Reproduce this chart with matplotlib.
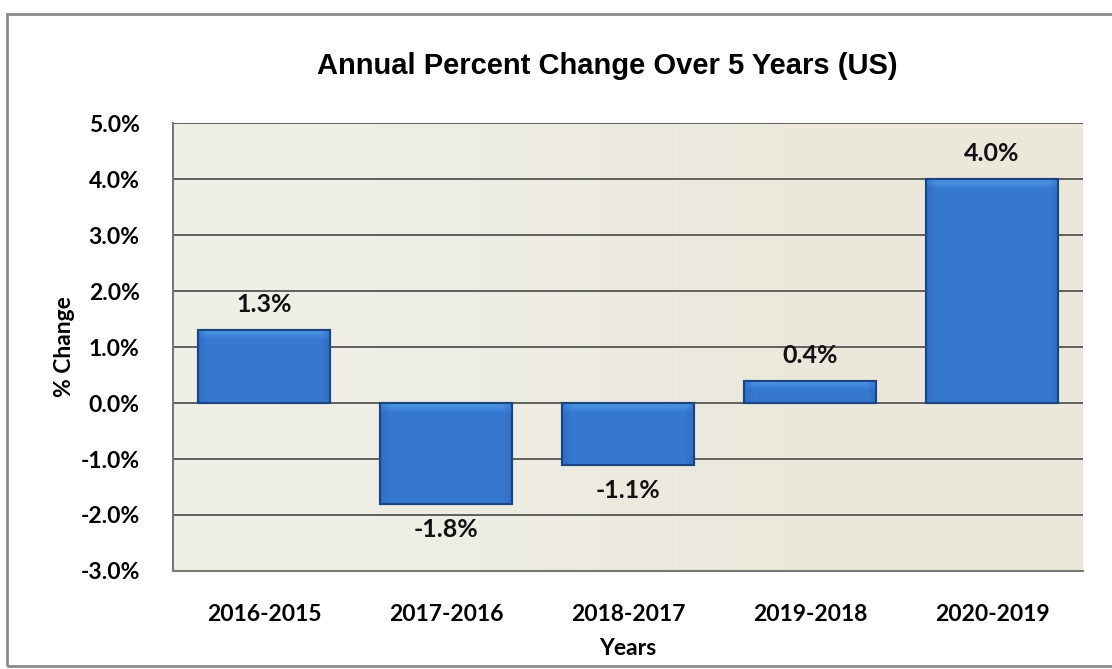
import numpy as np
import matplotlib.pyplot as plt
from matplotlib.colors import LinearSegmentedColormap
from matplotlib.patches import Rectangle
from matplotlib.ticker import FuncFormatter

years = ['2016-2015', '2017-2016', '2018-2017', '2019-2018', '2020-2019']
pct_change = [1.3, -1.8, -1.1, 0.4, 4.0]

fig = plt.figure(figsize=(11.12, 6.69), dpi=100)
fig.patch.set_facecolor('white')

# chart frame
fig.add_artist(Rectangle((7 / 1112, 3 / 669), 1110 / 1112, 652 / 669,
                         transform=fig.transFigure, fill=False,
                         edgecolor='#8a8a8a', linewidth=2))

ax = fig.add_axes([0.1556, 0.1465, 0.8183, 0.6696])
ax.set_xlim(-0.5, 4.5)
ax.set_ylim(-3, 5)

# beige plot area, a little lighter on the left
bg = np.linspace(0, 1, 256).reshape(1, -1)
ax.imshow(bg, extent=(-0.5, 4.5, -3, 5), aspect='auto', zorder=0,
          cmap=LinearSegmentedColormap.from_list(
              'bg', ['#f0f0e6', '#eeede3', '#ebe8dc', '#ebe7db']))

ax.yaxis.grid(True, color='#555555', linewidth=1.3, zorder=1)
ax.set_axisbelow(True)

bars = ax.bar(range(len(years)), pct_change, width=0.73, color='#2f6fc6',
              edgecolor='#1d4a8c', linewidth=1.5, zorder=3)

# bevel shading: light top band, darker sides
nx, ny = 200, 200
gx = np.linspace(-1, 1, nx)
side = 1 - 0.35 * np.clip((np.abs(gx) - 0.85) / 0.15, 0, 1)
cmap = LinearSegmentedColormap.from_list('bar', ['#1c4b93', '#2e6cc2', '#3a7fd6', '#4f98e4'])
for b in bars:
    x0, y0, w, h = b.get_x(), b.get_y(), b.get_width(), b.get_height()
    top_px = abs(h) * 56.3
    band = 1 - np.clip((np.linspace(0, top_px, ny)[:, None] - 3) / 7, 0, 1)
    val = np.clip(0.55 * side[None, :] + 0.35 * band * side[None, :], 0, 1)
    ext = (x0, x0 + w, min(y0, y0 + h), max(y0, y0 + h))
    im = ax.imshow(val, extent=ext, origin='upper', aspect='auto', cmap=cmap,
                   vmin=0, vmax=1, zorder=3.5)
    im.set_clip_path(b)
    ax.add_patch(Rectangle((x0, y0), w, h, fill=False,
                           edgecolor='#1b4581', linewidth=1.5, zorder=4))

for i, v in enumerate(pct_change):
    off = 0.25 if v >= 0 else -0.25
    ax.text(i, v + off, f'{v:.1f}%', ha='center', va='bottom' if v >= 0 else 'top',
            fontsize=18, fontweight='bold', family='Lato', color='#111111', zorder=5)

ax.set_yticks(np.arange(-3, 6, 1))
ax.yaxis.set_major_formatter(FuncFormatter(lambda v, p: f'{v:.1f}%'))
ax.set_xticks(range(len(years)))
ax.set_xticklabels(years)
ax.tick_params(axis='y', length=0, pad=24)
ax.tick_params(axis='x', length=0, pad=24)
for lbl in ax.get_xticklabels() + ax.get_yticklabels():
    lbl.set_family('Lato')
    lbl.set_fontweight('bold')
    lbl.set_fontsize(16.5)

for s in ['top', 'right']:
    ax.spines[s].set_visible(False)
ax.spines['left'].set_color('#777777')
ax.spines['bottom'].set_color('#777777')
ax.spines['left'].set_linewidth(1.5)
ax.spines['bottom'].set_linewidth(1.5)

ax.set_xlabel('Years', family='Lato', fontweight='bold', fontsize=16.5)
ax.set_ylabel('% Change', family='Lato', fontweight='bold', fontsize=16.5)
ax.xaxis.set_label_coords(0.5, -0.15)
ax.yaxis.set_label_coords(-0.108, 0.5)
fig.text(0.546, 0.902, 'Annual Percent Change Over 5 Years (US)', ha='center',
         va='center', family='Liberation Sans', fontweight='bold', fontsize=21)

fig.savefig('out.png', dpi=100)
